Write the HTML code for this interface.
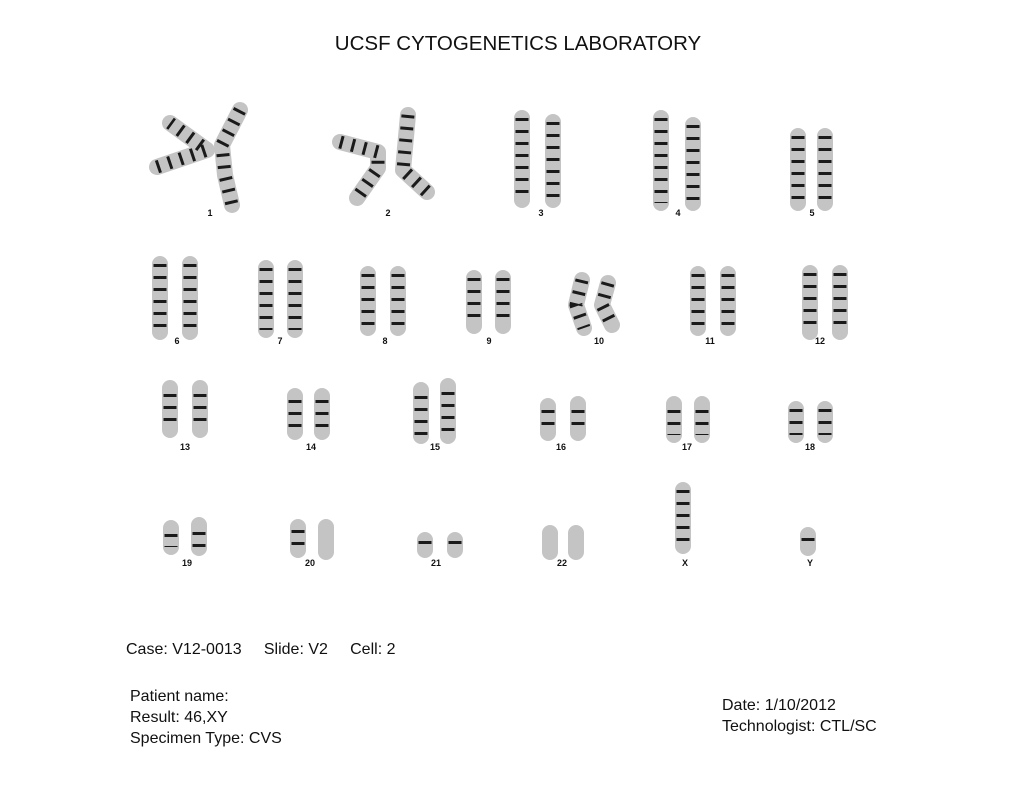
<!DOCTYPE html>
<html><head><meta charset="utf-8"><style>
html,body{margin:0;padding:0;background:#fff;}
body{width:1021px;height:789px;position:relative;overflow:hidden;font-family:"Liberation Sans",sans-serif;color:#111;}
.t{position:absolute;white-space:nowrap;font-size:16px;}
</style></head><body>
<svg width="1021" height="789" style="position:absolute;left:0;top:0" font-family="Liberation Sans" font-weight="bold" font-size="9" text-anchor="middle" fill="#111">
<g fill="none" stroke-linecap="round" stroke-linejoin="round">
<g stroke="#c4c4c4" stroke-width="16">
<polyline points="157,167 207,150 170,123"/>
<polyline points="240,110 222,145 225,175 232,205"/>
<polyline points="340,142 378,152 378,168 357,198"/>
<polyline points="408,115 403,170 427,192"/>
<line x1="522" y1="118" x2="522" y2="200"/><line x1="553" y1="122" x2="553" y2="200"/>
<line x1="661" y1="118" x2="661" y2="203"/><line x1="693" y1="125" x2="693" y2="203"/>
<line x1="798" y1="136" x2="798" y2="203"/><line x1="825" y1="136" x2="825" y2="203"/>
<line x1="160" y1="264" x2="160" y2="332"/><line x1="190" y1="264" x2="190" y2="332"/>
<line x1="266" y1="268" x2="266" y2="330"/><line x1="295" y1="268" x2="295" y2="330"/>
<line x1="368" y1="274" x2="368" y2="328"/><line x1="398" y1="274" x2="398" y2="328"/>
<line x1="474" y1="278" x2="474" y2="326"/><line x1="503" y1="278" x2="503" y2="326"/>
<polyline points="582,280 576,305 584,328"/><polyline points="608,283 602,305 612,325"/>
<line x1="698" y1="274" x2="698" y2="328"/><line x1="728" y1="274" x2="728" y2="328"/>
<line x1="810" y1="273" x2="810" y2="332"/><line x1="840" y1="273" x2="840" y2="332"/>
<line x1="170" y1="388" x2="170" y2="430"/><line x1="200" y1="388" x2="200" y2="430"/>
<line x1="295" y1="396" x2="295" y2="432"/><line x1="322" y1="396" x2="322" y2="432"/>
<line x1="421" y1="390" x2="421" y2="436"/><line x1="448" y1="386" x2="448" y2="436"/>
<line x1="548" y1="406" x2="548" y2="433"/><line x1="578" y1="404" x2="578" y2="433"/>
<line x1="674" y1="404" x2="674" y2="435"/><line x1="702" y1="404" x2="702" y2="435"/>
<line x1="796" y1="409" x2="796" y2="435"/><line x1="825" y1="409" x2="825" y2="435"/>
<line x1="171" y1="528" x2="171" y2="547"/><line x1="199" y1="525" x2="199" y2="548"/>
<line x1="298" y1="527" x2="298" y2="550"/><line x1="326" y1="527" x2="326" y2="552"/>
<line x1="425" y1="540" x2="425" y2="550"/><line x1="455" y1="540" x2="455" y2="550"/>
<line x1="550" y1="533" x2="550" y2="552"/><line x1="576" y1="533" x2="576" y2="552"/>
<line x1="683" y1="490" x2="683" y2="546"/>
<line x1="808" y1="535" x2="808" y2="548"/>
</g>
<g stroke="#1a1a1a" stroke-width="13" stroke-dasharray="3 9" stroke-linecap="butt">
<polyline points="157,167 207,150 170,123"/>
<polyline points="240,110 222,145 225,175 232,205"/>
<polyline points="340,142 378,152 378,168 357,198"/>
<polyline points="408,115 403,170 427,192"/>
<line x1="522" y1="118" x2="522" y2="200"/><line x1="553" y1="122" x2="553" y2="200"/>
<line x1="661" y1="118" x2="661" y2="203"/><line x1="693" y1="125" x2="693" y2="203"/>
<line x1="798" y1="136" x2="798" y2="203"/><line x1="825" y1="136" x2="825" y2="203"/>
<line x1="160" y1="264" x2="160" y2="332"/><line x1="190" y1="264" x2="190" y2="332"/>
<line x1="266" y1="268" x2="266" y2="330"/><line x1="295" y1="268" x2="295" y2="330"/>
<line x1="368" y1="274" x2="368" y2="328"/><line x1="398" y1="274" x2="398" y2="328"/>
<line x1="474" y1="278" x2="474" y2="326"/><line x1="503" y1="278" x2="503" y2="326"/>
<polyline points="582,280 576,305 584,328"/><polyline points="608,283 602,305 612,325"/>
<line x1="698" y1="274" x2="698" y2="328"/><line x1="728" y1="274" x2="728" y2="328"/>
<line x1="810" y1="273" x2="810" y2="332"/><line x1="840" y1="273" x2="840" y2="332"/>
<line x1="170" y1="394" x2="170" y2="430"/><line x1="200" y1="394" x2="200" y2="430"/>
<line x1="295" y1="400" x2="295" y2="432"/><line x1="322" y1="400" x2="322" y2="432"/>
<line x1="421" y1="396" x2="421" y2="436"/><line x1="448" y1="392" x2="448" y2="436"/>
<line x1="548" y1="410" x2="548" y2="433"/><line x1="578" y1="410" x2="578" y2="433"/>
<line x1="674" y1="410" x2="674" y2="435"/><line x1="702" y1="410" x2="702" y2="435"/>
<line x1="796" y1="409" x2="796" y2="435"/><line x1="825" y1="409" x2="825" y2="435"/>
<line x1="171" y1="534" x2="171" y2="547"/><line x1="199" y1="532" x2="199" y2="548"/>
<line x1="298" y1="530" x2="298" y2="550"/>
<line x1="425" y1="541" x2="425" y2="550"/><line x1="455" y1="541" x2="455" y2="550"/>
<line x1="683" y1="490" x2="683" y2="546"/>
<line x1="808" y1="538" x2="808" y2="548"/>
</g>
</g>
<text x="210" y="216">1</text><text x="388" y="216">2</text><text x="541" y="216">3</text><text x="678" y="216">4</text><text x="812" y="216">5</text>
<text x="177" y="344">6</text><text x="280" y="344">7</text><text x="385" y="344">8</text><text x="489" y="344">9</text><text x="599" y="344">10</text><text x="710" y="344">11</text><text x="820" y="344">12</text>
<text x="185" y="450">13</text><text x="311" y="450">14</text><text x="435" y="450">15</text><text x="561" y="450">16</text><text x="687" y="450">17</text><text x="810" y="450">18</text>
<text x="187" y="566">19</text><text x="310" y="566">20</text><text x="436" y="566">21</text><text x="562" y="566">22</text><text x="685" y="566">X</text><text x="810" y="566">Y</text>
</svg>
<div class="t" style="left:0;width:1036px;text-align:center;top:32px;font-size:20.5px;">UCSF CYTOGENETICS LABORATORY</div>
<div class="t" style="left:126px;top:641px;">Case: V12-0013&nbsp;&nbsp;&nbsp;&nbsp;&nbsp;Slide: V2&nbsp;&nbsp;&nbsp;&nbsp;&nbsp;Cell: 2</div>
<div class="t" style="left:130px;top:688px;">Patient name:</div>
<div class="t" style="left:130px;top:709px;">Result: 46,XY</div>
<div class="t" style="left:130px;top:730px;">Specimen Type: CVS</div>
<div class="t" style="left:722px;top:697px;">Date: 1/10/2012</div>
<div class="t" style="left:722px;top:718px;">Technologist: CTL/SC</div>
</body></html>
